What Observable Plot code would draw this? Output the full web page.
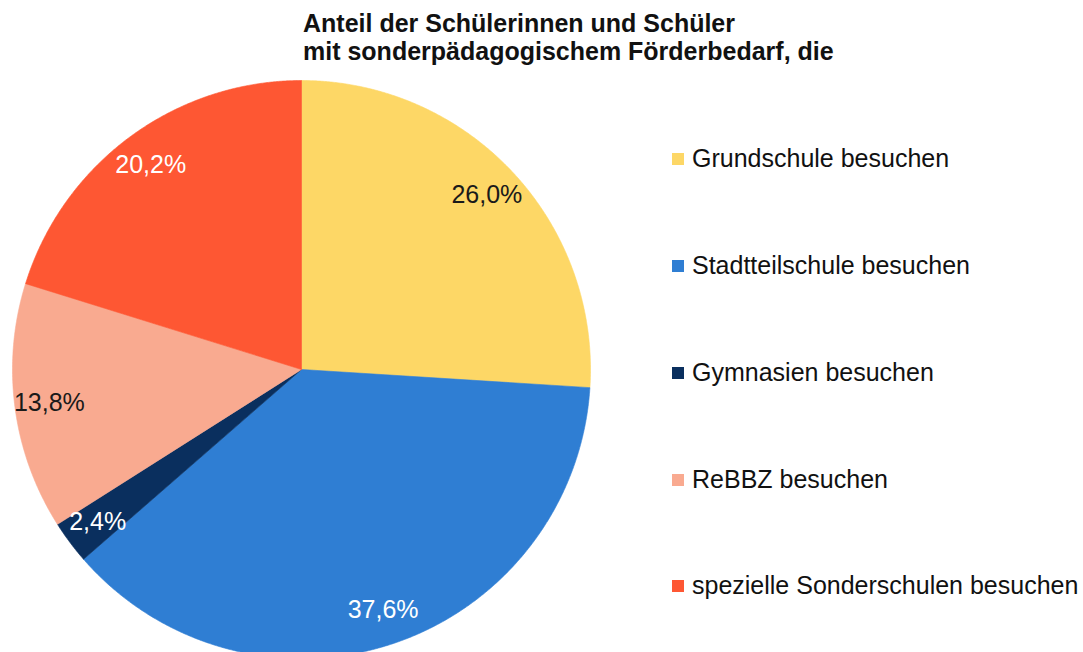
<!DOCTYPE html>
<html>
<head>
<meta charset="utf-8">
<script src="https://cdn.jsdelivr.net/npm/d3@7"></script>
<script src="https://cdn.jsdelivr.net/npm/@observablehq/plot@0.6"></script>
<style>
  html, body { margin: 0; padding: 0; background: #fff; }
  body { width: 1083px; height: 652px; position: relative; overflow: hidden; font-family: "Liberation Sans", Arial, sans-serif; }
  #chart { position: absolute; left: 0; top: 0; }
  #title { position: absolute; left: 303px; top: 9px; font-weight: bold; font-size: 25px; line-height: 28px; color: #111; white-space: nowrap; z-index: 2; }
  #legend { position: absolute; left: 0; top: 0; }
  .item { position: absolute; left: 692px; white-space: nowrap; font-size: 25px; line-height: 25px; color: #111; }
  .sw { position: absolute; left: 672px; width: 12px; height: 12px; }
</style>
</head>
<body>
<div id="chart"></div>
<div id="title">Anteil der Schülerinnen und Schüler<br>mit sonderpädagogischem Förderbedarf, die</div>
<div id="legend"></div>
<script>
const categories = ["Grundschule besuchen", "Stadtteilschule besuchen", "Gymnasien besuchen", "ReBBZ besuchen", "spezielle Sonderschulen besuchen"];
const shares = [26.0, 37.6, 2.4, 13.8, 20.2];
const shareLabels = ["26,0%", "37,6%", "2,4%", "13,8%", "20,2%"];
const colors = ["#FDD766", "#2F7ED3", "#0A2F5E", "#F9AA90", "#FE5733"];
const labelColors = ["#1a1a1a", "#ffffff", "#ffffff", "#1a1a1a", "#ffffff"];

const rows = categories.map((c, i) => ({category: c, share: shares[i], label: shareLabels[i], labelColor: labelColors[i]}));
const arcs = d3.pie().sort(null).value(d => d.share)(rows);

// slice outlines in unit-circle coordinates (angle 0 at top, clockwise)
const polys = [];
for (const a of arcs) {
  polys.push({category: a.data.category, x: 0, y: 0});
  const n = Math.max(2, Math.ceil((a.endAngle - a.startAngle) / 0.005));
  for (let k = 0; k <= n; k++) {
    const t = a.startAngle + (a.endAngle - a.startAngle) * k / n;
    polys.push({category: a.data.category, x: Math.sin(t), y: Math.cos(t)});
  }
  polys.push({category: a.data.category, x: 0, y: 0});
}
const labelPos = arcs.map(a => {
  const m = (a.startAngle + a.endAngle) / 2;
  return {label: a.data.label, color: a.data.labelColor, x: 0.88 * Math.sin(m), y: 0.88 * Math.cos(m)};
});

const R = 289, cx = 301, cy = 369;
const plot = Plot.plot({
  width: 1083,
  height: 652,
  margin: 0,
  style: {background: "transparent", fontFamily: "Liberation Sans, Arial, sans-serif"},
  x: {domain: [-1, 1], range: [cx - R, cx + R], axis: null},
  y: {domain: [-1, 1], range: [cy + R, cy - R], axis: null},
  color: {domain: categories, range: colors},
  marks: [
    Plot.line(polys, {x: "x", y: "y", z: "category", fill: "category", stroke: "category", strokeWidth: 0.6, curve: "linear"}),
    Plot.text(labelPos, {x: "x", y: "y", text: "label", fill: d => d.color, fontSize: 25})
  ]
});
document.getElementById("chart").appendChild(plot);

const legendY = [158, 265, 372, 479, 585];
const legend = document.getElementById("legend");
categories.forEach((c, i) => {
  const sw = document.createElement("div");
  sw.className = "sw";
  sw.style.top = (legendY[i] - 5) + "px";
  sw.style.background = colors[i];
  legend.appendChild(sw);
  const d = document.createElement("div");
  d.className = "item";
  d.style.top = (legendY[i] - 12) + "px";
  d.textContent = c;
  legend.appendChild(d);
});
</script>
</body>
</html>
